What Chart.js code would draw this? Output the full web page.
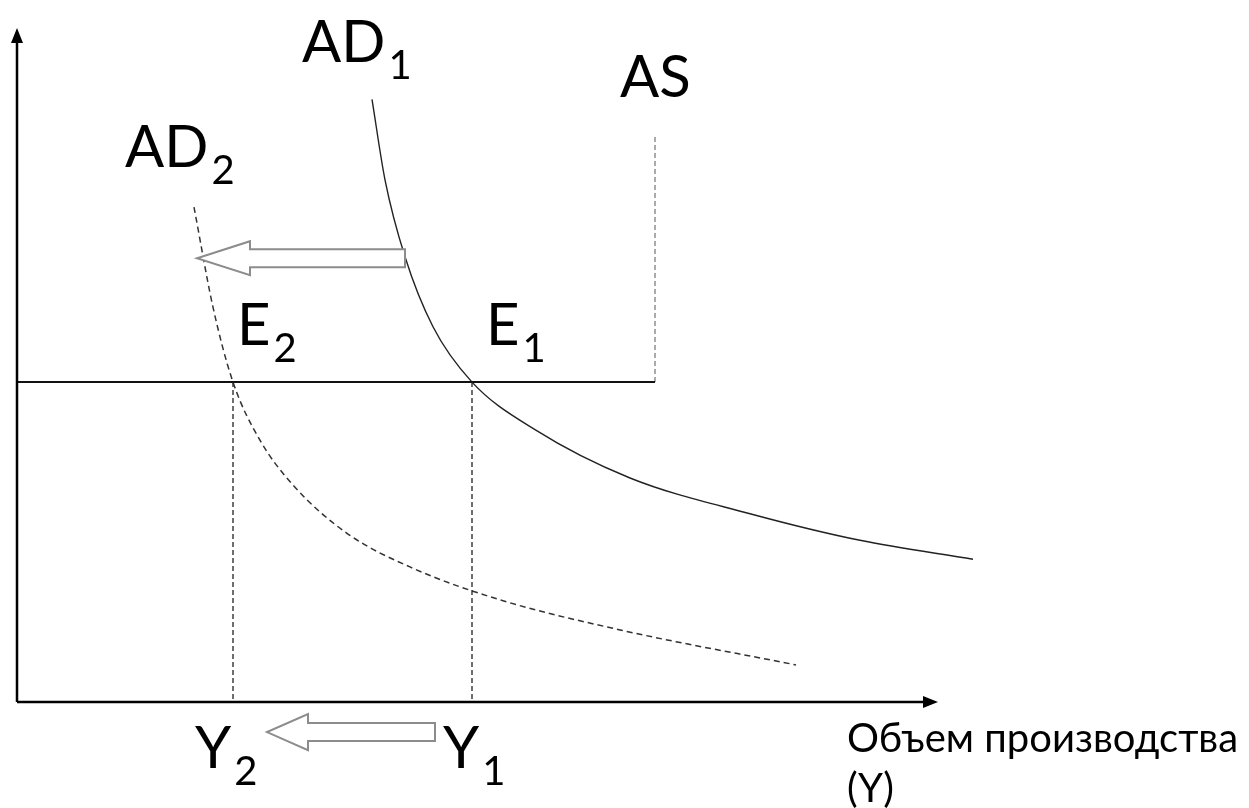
<!DOCTYPE html>
<html>
<head>
<meta charset="utf-8">
<script src="https://cdn.jsdelivr.net/npm/chart.js@4/dist/chart.umd.min.js"></script>
<style>
  html, body { margin: 0; padding: 0; background: #ffffff; }
  canvas { display: block; }
</style>
</head>
<body>
<canvas id="c" width="1249" height="808"></canvas>
<script>
// ---- data (output Y on x, price level on y; arbitrary units 0..100) ----
const ad1Output = [35.5, 36.8, 38.8, 41.6, 45.5, 51.8, 61.3, 73.3, 84.3, 95.6];
const ad1Price  = [86.1, 74.6, 63.6, 53.6, 45.7, 38.9, 32.0, 26.9, 23.1, 20.4];
const ad2Output = [17.7, 19.6, 21.6, 24.3, 27.6, 33.0, 39.6, 48.3, 60.3, 77.9];
const ad2Price  = [70.7, 56.4, 45.7, 37.4, 31.0, 24.1, 19.1, 14.6, 10.3, 5.3];
const priceLevel = 45.7;          // horizontal AS segment / equilibrium price
const potentialOutput = 63.8;     // vertical AS segment
const asTop = 81.0;
const outputY1 = 45.5;
const outputY2 = 21.6;
const axisMaxX = 92.1;
const axisMaxY = 96.3;
const shiftTop = { from: 38.8, to: 18.0, level: 63.4 };     // AD shift arrow
const shiftBottom = { from: 41.8, to: 25.0, level: -4.3 };  // Y shift arrow
const labelMain = ['AD', 'AS', 'AD', 'E', 'E', 'Y', 'Y'];
const labelSub  = ['1', '', '2', '2', '1', '2', '1'];
const axisTitle = ['Объем производства', '(Y)'];

function pts(xs, ys) { return xs.map((x, i) => ({ x: x, y: ys[i] })); }

const FONT = 'Lato, "Open Sans", "DejaVu Sans", sans-serif';

const overlay = {
  id: 'overlay',
  afterDatasetsDraw(chart) {
    const ctx = chart.ctx;
    const xs = chart.scales.x, ys = chart.scales.y;
    const X = v => xs.getPixelForValue(v);
    const Y = v => ys.getPixelForValue(v);
    ctx.save();
    // axis arrowheads
    ctx.fillStyle = '#000';
    ctx.beginPath();
    ctx.moveTo(X(0), Y(axisMaxY));
    ctx.lineTo(X(0) - 6, Y(axisMaxY) + 15);
    ctx.lineTo(X(0) + 6, Y(axisMaxY) + 15);
    ctx.closePath(); ctx.fill();
    ctx.beginPath();
    ctx.moveTo(X(axisMaxX), Y(0));
    ctx.lineTo(X(axisMaxX) - 15, Y(0) - 6);
    ctx.lineTo(X(axisMaxX) - 15, Y(0) + 6);
    ctx.closePath(); ctx.fill();

    // hollow shift arrows
    function hollow(a, shaftHalf, headHalf, headLen) {
      const x0 = X(a.from), x1 = X(a.to), y = Y(a.level);
      const hb = x1 + headLen;
      ctx.beginPath();
      ctx.moveTo(x0, y - shaftHalf);
      ctx.lineTo(hb, y - shaftHalf);
      ctx.lineTo(hb, y - headHalf);
      ctx.lineTo(x1, y);
      ctx.lineTo(hb, y + headHalf);
      ctx.lineTo(hb, y + shaftHalf);
      ctx.lineTo(x0, y + shaftHalf);
      ctx.closePath();
      ctx.fillStyle = '#ffffff';
      ctx.fill();
      ctx.strokeStyle = '#8c8c8c';
      ctx.lineWidth = 2;
      ctx.stroke();
    }
    hollow(shiftTop, 9, 17, 53);
    hollow(shiftBottom, 9, 18, 41);

    // labels
    ctx.fillStyle = '#000';
    ctx.textBaseline = 'alphabetic';
    ctx.textAlign = 'left';
    const anchors = [
      [302, 62], [620, 97], [125, 167], [237, 345], [486, 345], [195, 768], [443, 768]
    ];
    labelMain.forEach((t, i) => {
      const [lx, ly] = anchors[i];
      ctx.font = '58px ' + FONT;
      ctx.fillText(t, lx, ly);
      if (labelSub[i]) {
        const w = ctx.measureText(t).width;
        ctx.font = '40px ' + FONT;
        ctx.fillText(labelSub[i], lx + w + 3, ly + 17);
      }
    });
    ctx.font = '40px ' + FONT;
    ctx.fillText(axisTitle[0], 847, 752);
    ctx.fillText(axisTitle[1], 847, 802);
    ctx.restore();
  }
};

const bg = {
  id: 'bg',
  beforeDraw(chart) {
    const ctx = chart.ctx;
    ctx.save(); ctx.fillStyle = '#fff';
    ctx.fillRect(0, 0, chart.width, chart.height);
    ctx.restore();
  }
};

const common = { showLine: true, pointRadius: 0, clip: false, fill: false };

new Chart(document.getElementById('c'), {
  type: 'scatter',
  data: {
    datasets: [
      Object.assign({}, common, { label: 'y-axis', data: pts([0, 0], [0, axisMaxY - 2]), borderColor: '#000', borderWidth: 2.5 }),
      Object.assign({}, common, { label: 'x-axis', data: pts([0, axisMaxX - 1.5], [0, 0]), borderColor: '#000', borderWidth: 2.5 }),
      Object.assign({}, common, { label: 'Y2 drop', data: pts([outputY2, outputY2], [priceLevel, 0]), borderColor: '#222', borderWidth: 1.3, borderDash: [5, 3] }),
      Object.assign({}, common, { label: 'Y1 drop', data: pts([outputY1, outputY1], [priceLevel, 0]), borderColor: '#222', borderWidth: 1.3, borderDash: [5, 3] }),
      Object.assign({}, common, { label: 'AS horizontal', data: pts([0, potentialOutput], [priceLevel, priceLevel]), borderColor: '#111', borderWidth: 2 }),
      Object.assign({}, common, { label: 'AS vertical', data: pts([potentialOutput, potentialOutput], [priceLevel, asTop]), borderColor: '#aaaaaa', borderWidth: 2, borderDash: [5, 3] }),
      Object.assign({}, common, { label: 'AD1', data: pts(ad1Output, ad1Price), borderColor: '#222', borderWidth: 1.4, cubicInterpolationMode: 'monotone' }),
      Object.assign({}, common, { label: 'AD2', data: pts(ad2Output, ad2Price), borderColor: '#333', borderWidth: 1.5, borderDash: [6, 4], cubicInterpolationMode: 'monotone' })
    ]
  },
  options: {
    responsive: false,
    animation: false,
    devicePixelRatio: 1,
    layout: { padding: { left: 17, right: 232, top: 2, bottom: 106 } },
    scales: {
      x: { type: 'linear', min: 0, max: 100, display: false },
      y: { type: 'linear', min: 0, max: 100, display: false }
    },
    plugins: { legend: { display: false }, tooltip: { enabled: false } }
  },
  plugins: [bg, overlay]
});
</script>
</body>
</html>
